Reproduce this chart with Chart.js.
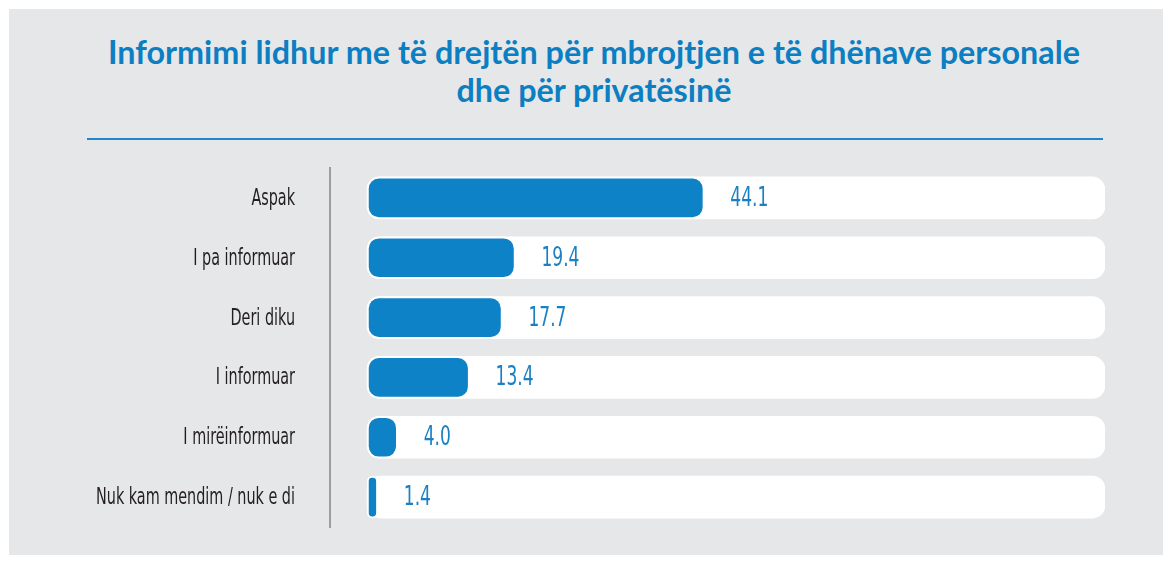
<!DOCTYPE html>
<html>
<head>
<meta charset="utf-8">
<script src="https://cdn.jsdelivr.net/npm/chart.js@4.4.1/dist/chart.umd.min.js"></script>
<style>
  html, body { margin: 0; padding: 0; background: #ffffff; }
  #stage { position: relative; width: 1170px; height: 561px; overflow: hidden; }
  #panel { position: absolute; left: 9px; top: 9px; width: 1154px; height: 546px; background: #e6e7e9; }
  #title { position: absolute; left: 0; width: 1188px; text-align: center; color: #0c7fc3;
           font-family: Lato, "Open Sans", sans-serif; font-weight: 700; white-space: nowrap;
           font-size: 32px; line-height: 38px; transform-origin: 594px 0; }
  #title span { display: inline-block; }
  #rule { position: absolute; left: 87px; top: 138px; width: 1016px; height: 2px; background: #1f86cb; }
  #wrap { position: absolute; left: 0; top: 0; width: 1170px; height: 561px; }
</style>
</head>
<body>
<div id="stage">
  <div id="panel"></div>
  <div id="title"><div><span id="t1">Informimi lidhur me të drejtën për mbrojtjen e të dhënave personale</span></div><div><span id="t2">dhe për privatësinë</span></div></div>
  <div id="rule"></div>
  <div id="wrap"><canvas id="c"></canvas></div>
</div>
<script>
// ---- data ----
const categories = ["Aspak", "I pa informuar", "Deri diku", "I informuar", "I mirëinformuar", "Nuk kam mendim / nuk e di"];
const values = [44.1, 19.4, 17.7, 13.4, 4.0, 1.4];
const valueLabels = ["44.1", "19.4", "17.7", "13.4", "4.0", "1.4"];
const xMin = -4.85;
const xMax = 96.5;

// ---- title: fit horizontally to the reference width ----
const titleEl = document.getElementById('title');
function fitTitle() {
  titleEl.style.transform = 'none';
  const w1 = document.getElementById('t1').getBoundingClientRect().width;
  const tScale = Math.max(0.85, Math.min(1.12, 972 / w1));
  titleEl.style.transform = 'scaleX(' + tScale.toFixed(4) + ')';
}
const baseOff = (38 - 1.2 * 32) / 2 + 0.987 * 32;
titleEl.style.top = (64 - baseOff).toFixed(1) + 'px';
fitTitle();
if (document.fonts) {
  document.fonts.load('700 32px Lato').then(fitTitle).catch(() => {});
  document.fonts.ready.then(fitTitle);
}

// ---- condensed text helpers ----
const narrow = '"DejaVu Sans Condensed", "Liberation Sans Narrow", sans-serif';
const catFont = '23px ' + narrow;
const valFont = '27px ' + narrow;

function drawSquished(ctx, text, x, y, sx, align) {
  ctx.save();
  ctx.translate(x, y);
  ctx.scale(sx, 1);
  ctx.textAlign = align;
  ctx.fillText(text, 0, 0);
  ctx.restore();
}

const labelPlugin = {
  id: 'labels',
  afterDatasetsDraw(chart) {
    const ctx = chart.ctx;
    const xs = chart.scales.x, ys = chart.scales.y;
    ctx.save();
    ctx.textBaseline = 'middle';
    ctx.font = valFont;
    const valScale = Math.min(1, 38 / ctx.measureText("44.1").width);
    ctx.fillStyle = '#1b80c3';
    values.forEach((v, i) => {
      drawSquished(ctx, valueLabels[i], xs.getPixelForValue(v) + 26, ys.getPixelForValue(i) + 1, valScale, 'left');
    });
    ctx.font = catFont;
    const catScale = Math.min(1, 199 / ctx.measureText("Nuk kam mendim / nuk e di").width);
    ctx.fillStyle = '#231f20';
    categories.forEach((c, i) => {
      drawSquished(ctx, c, ys.right - 35, ys.getPixelForValue(i) + 1, catScale, 'right');
    });
    ctx.restore();
  }
};

const chart = new Chart(document.getElementById('c'), {
  type: 'bar',
  data: {
    labels: categories,
    datasets: [
      {
        label: 'track',
        data: categories.map(() => xMax),
        backgroundColor: '#ffffff',
        borderWidth: 0,
        borderRadius: 13,
        borderSkipped: false,
        barThickness: 42,
        grouped: false,
        order: 2
      },
      {
        label: 'values',
        data: values,
        backgroundColor: '#0e82c6',
        borderColor: '#ffffff',
        borderWidth: 2,
        borderRadius: 12,
        borderSkipped: false,
        barThickness: 42,
        grouped: false,
        order: 1
      }
    ]
  },
  options: {
    indexAxis: 'y',
    responsive: true,
    maintainAspectRatio: false,
    animation: false,
    layout: { padding: { left: 0, right: 65, top: 168, bottom: 34 } },
    plugins: { legend: { display: false }, tooltip: { enabled: false }, title: { display: false } },
    scales: {
      x: { display: false, min: xMin, max: xMax },
      y: {
        afterFit(scale) { scale.width = 330; },
        grid: { display: true, drawOnChartArea: false, drawTicks: false, color: 'rgba(0,0,0,0)' },
        border: { display: true, color: '#9d9d9d', width: 2 },
        ticks: { display: false }
      }
    }
  },
  plugins: [labelPlugin]
});
if (document.fonts) { document.fonts.ready.then(() => chart.update('none')); }
</script>
</body>
</html>
